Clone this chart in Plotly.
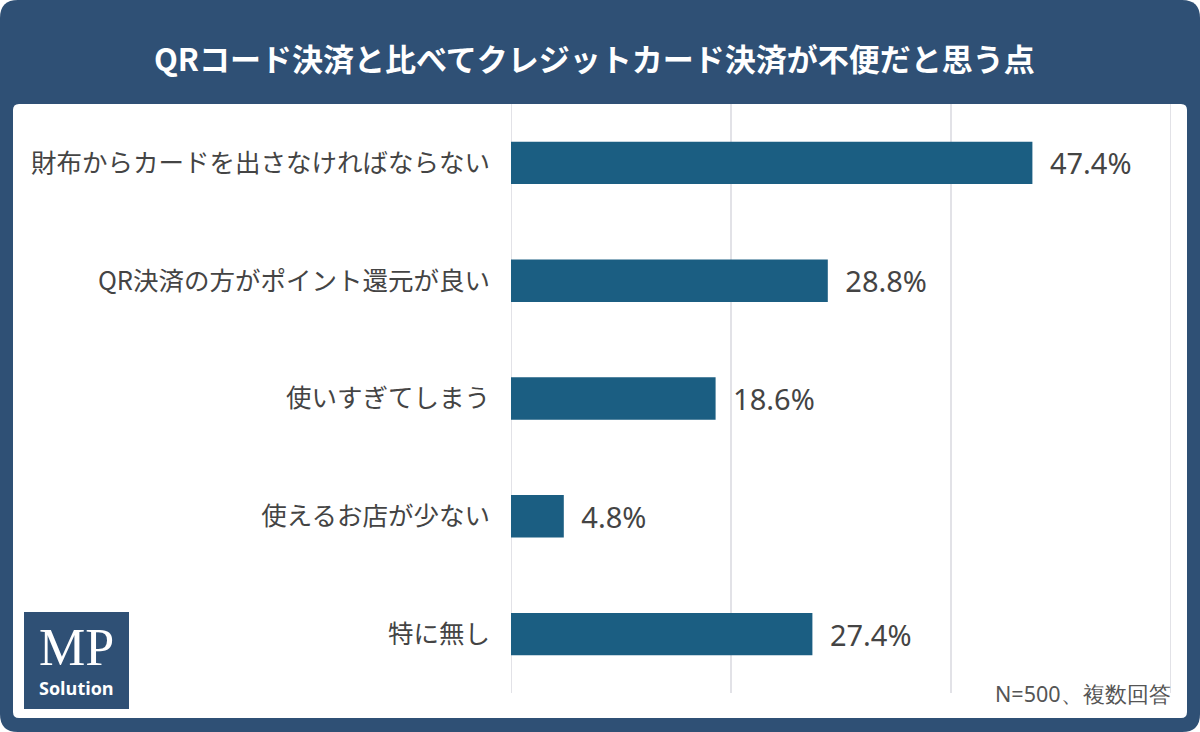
import plotly.graph_objects as go

categories = ["財布からカードを出さなければならない", "QR決済の方がポイント還元が良い",
              "使いすぎてしまう", "使えるお店が少ない", "特に無し"]
values = [47.4, 28.8, 18.6, 4.8, 27.4]
value_labels = [f"\u2002{v:.1f}%" for v in values]
grid_ticks = [0, 20, 40, 60]

title_text = "QRコード決済と比べてクレジットカード決済が不便だと思う点"
note_text = "N=500、複数回答"

FRAME = "#2f5075"
BAR = "#1b5e82"
FONT = "Noto Sans CJK JP"

W, H = 1200, 732
L, R, T, B = 511, 29, 104, 39
PW, PH = W - L - R, H - T - B

def fx(p): return (p - L) / PW
def fy(p): return 1 - (p - T) / PH

fig = go.Figure(go.Bar(
    x=values, y=categories, orientation="h",
    marker=dict(color=BAR, line=dict(width=0)),
    width=0.36,
    text=value_labels, textposition="outside",
    textfont=dict(family="Noto Sans", size=29, color="#444444"),
    cliponaxis=False,
))

def rounded_path(x0, y0, x1, y1, r):
    pts = [
        f"M {fx(x0 + r)} {fy(y0)}",
        f"L {fx(x1 - r)} {fy(y0)}",
        f"Q {fx(x1)} {fy(y0)} {fx(x1)} {fy(y0 + r)}",
        f"L {fx(x1)} {fy(y1 - r)}",
        f"Q {fx(x1)} {fy(y1)} {fx(x1 - r)} {fy(y1)}",
        f"L {fx(x0 + r)} {fy(y1)}",
        f"Q {fx(x0)} {fy(y1)} {fx(x0)} {fy(y1 - r)}",
        f"L {fx(x0)} {fy(y0 + r)}",
        f"Q {fx(x0)} {fy(y0)} {fx(x0 + r)} {fy(y0)}",
        "Z",
    ]
    return " ".join(pts)

# dark frame with rounded corners
fig.add_shape(type="path", xref="paper", yref="paper", layer="below",
              path=rounded_path(0, 0, W, H, 18), fillcolor=FRAME, line=dict(width=0))
# white panel
fig.add_shape(type="path", xref="paper", yref="paper", layer="below",
              path=rounded_path(13, 104, 1187, 718, 6), fillcolor="#ffffff", line=dict(width=0))
# vertical grid lines at the grid ticks
for t in grid_ticks:
    fig.add_shape(type="line", xref="x", yref="paper", layer="below",
                  x0=t, x1=t, y0=0, y1=1, line=dict(color="#d9d9df", width=1.5))

fig.update_layout(
    width=W, height=H,
    margin=dict(l=L, r=R, t=T, b=B),
    paper_bgcolor="#ffffff",
    plot_bgcolor="rgba(0,0,0,0)",
    showlegend=False,
    font=dict(family=FONT, color="#444444"),
    xaxis=dict(range=[0, 60], showticklabels=False,
               showgrid=False, zeroline=False, fixedrange=True),
    yaxis=dict(autorange="reversed", showgrid=False, zeroline=False,
               tickfont=dict(family=FONT, size=25.5, color="#444444"),
               ticklabelstandoff=20, ticks=""),
)

# logo
fig.add_shape(type="rect", xref="paper", yref="paper", layer="above",
              x0=fx(24), x1=fx(129), y0=fy(709), y1=fy(612),
              fillcolor=FRAME, line=dict(width=0))
fig.add_annotation(x=fx(76), y=fy(647), xref="paper", yref="paper", showarrow=False,
                   text="MP", font=dict(family="Liberation Serif", size=52, color="white"),
                   xanchor="center", yanchor="middle")
fig.add_annotation(x=fx(76), y=fy(688), xref="paper", yref="paper", showarrow=False,
                   text="<b>Solution</b>", font=dict(family="Open Sans", size=18, color="white"),
                   xanchor="center", yanchor="middle")

# title
fig.add_annotation(x=fx(594), y=fy(57), xref="paper", yref="paper", showarrow=False,
                   text=f"<b>{title_text}</b>",
                   font=dict(family=FONT, size=31, color="white"),
                   xanchor="center", yanchor="middle")
# note
fig.add_annotation(x=fx(1173), y=fy(693), xref="paper", yref="paper", showarrow=False,
                   text=note_text, font=dict(family="Noto Sans", size=21.5, color="#555555"),
                   xanchor="right", yanchor="middle")

fig.write_html("out.html")
